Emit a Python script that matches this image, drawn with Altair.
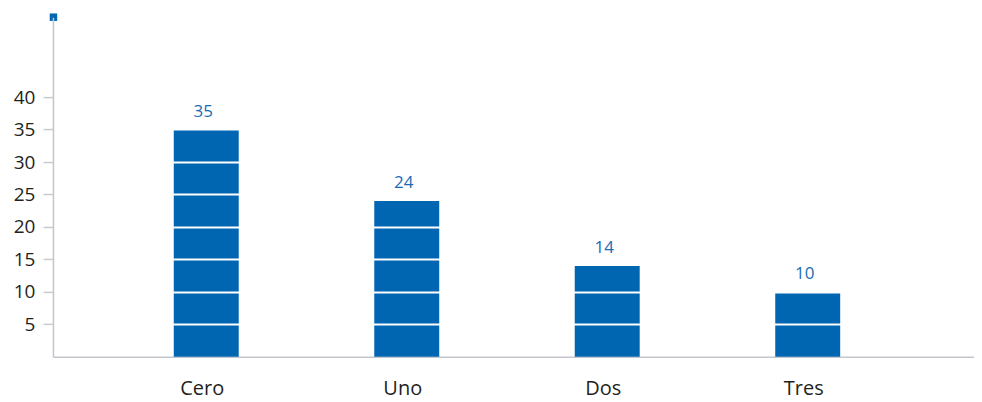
import altair as alt
import pandas as pd

categories = ["Cero", "Uno", "Dos", "Tres"]
values = [35, 24, 14, 10]
y_ticks = [5, 10, 15, 20, 25, 30, 35, 40]

df = pd.DataFrame({"cat": categories, "val": values})

BLUE = "#0066b2"
FONT = "Open Sans"

x_enc = alt.X(
    "cat:N",
    sort=categories,
    scale=alt.Scale(paddingInner=0.676, paddingOuter=0.635, align=0.4745),
    axis=alt.Axis(title=None, ticks=False, labelAngle=0, labelPadding=22,
                  labelOffset=-4, labelFontSize=20, labelFont=FONT,
                  labelColor="#231f20", domainColor="#c3c6cc", domainWidth=1.5,
                  grid=False),
)
y_enc = alt.Y(
    "val:Q",
    scale=alt.Scale(domain=[0, 52.3], nice=False, zero=True),
    axis=alt.Axis(title=None, values=y_ticks, tickSize=10, tickColor="#c8cbd0",
                  tickWidth=1.5, labelPadding=8, labelFontSize=19, labelFont=FONT,
                  labelColor="#231f20", domainColor="#c3c6cc", domainWidth=1.5,
                  grid=True, gridColor="white", gridWidth=2, zindex=1),
)

bars = alt.Chart(df).mark_bar(color=BLUE).encode(x=x_enc, y=y_enc)
labels = alt.Chart(df).mark_text(baseline="bottom", dy=-9, dx=-3, fontSize=17,
                                 font=FONT, color="#1a6db4").encode(
    x=alt.X("cat:N", sort=categories), y="val:Q", text="val:Q")
marker = alt.Chart(pd.DataFrame({"m": [0]})).mark_square(
    color=BLUE, size=56, opacity=1).encode(x=alt.value(0.5), y=alt.value(0))

chart = alt.layer(bars, labels, marker).properties(
    width=922, height=340,
    padding={"left": 5, "top": 5, "right": 0, "bottom": 5},
).configure_view(stroke=None)

chart.save("out.html", embed_options={"renderer": "svg", "actions": False})
